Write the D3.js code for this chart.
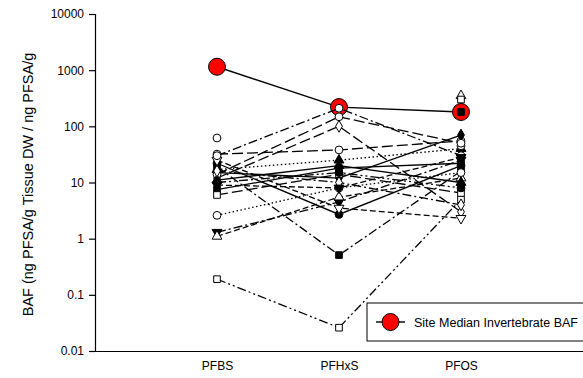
<!DOCTYPE html>
<html>
<head>
<meta charset="utf-8">
<script src="https://cdn.jsdelivr.net/npm/d3@7"></script>
<style>
  html, body { margin: 0; padding: 0; background: #fff; }
  svg { display: block; font-family: "Liberation Sans", Arial, sans-serif; }
</style>
</head>
<body>
<svg id="chart" width="583" height="378"></svg>
<script>
// Compounds on the category axis
const categories = ["PFBS", "PFHxS", "PFOS"];
const yTickValues = [0.01, 0.1, 1, 10, 100, 1000, 10000];
const yTickLabels = ["0.01", "0.1", "1", "10", "100", "1000", "10000"];

// Site median invertebrate BAF
const medianBAF = [1150, 220, 180];

// Individual invertebrate BAFs (PFBS, PFHxS, PFOS); null = not determined
const inv01 = [22, 2.7, 20];
const inv02 = [32, 38, 55];
const inv03 = [1.3, 4.5, 25];
const inv04 = [1.1, 5.5, 12];
const inv05 = [19, 0.51, 16];
const inv06 = [0.19, 0.026, 5];
const inv07 = [15, 12, 70];
const inv08 = [12, 100, 3];
const inv09 = [17, 25, 40];
const inv10 = [25, 3.5, 2.3];
const inv11 = [2.6, 8, 15];
const inv12 = [62, null, 45];
const inv13 = [7.5, 18, 22];
const inv14 = [6, 14, 6.5];
const inv15 = [10, 15, 8];
const inv16 = [30, 210, 30];
const inv17 = [14, 148, 50];
const inv18 = [11, 20, 10];
const inv19 = [16, 10, 4];
const inv20 = [9, 8, 28];
const inv21 = [null, null, 350];
const inv22 = [null, null, 300];
const inv23 = [null, null, 180];

const seriesValues = [inv01, inv02, inv03, inv04, inv05, inv06, inv07, inv08, inv09, inv10,
  inv11, inv12, inv13, inv14, inv15, inv16, inv17, inv18, inv19, inv20, inv21, inv22, inv23];

// Marker and line style per series
const seriesMarkers = ["circleF", "circleO", "triDownF", "triUpO", "squareF", "squareO", "diamondF",
  "diamondO", "triUpF", "triDownO", "circleO", "circleO", "squareF", "squareO", "circleF",
  "circleO", "circleO", "triUpF", "diamondO", "triDownF", "triUpO", "squareO", "squareF"];
const seriesDashes = ["solid", "longDash", "dashDot", "dash", "dashDot", "dashDotDot", "solid",
  "longDash", "dotted", "dash", "dotted", "none", "solid", "longDash", "dashDotDot",
  "dashDot", "longDash", "solid", "dashDot", "dash", "none", "none", "none"];

const dashPatterns = {
  solid: null,
  longDash: "11,4",
  dash: "6,3",
  dashDot: "9,3,2,3",
  dashDotDot: "9,3,2,3,2,3",
  dotted: "1.5,2.5",
  none: null
};

const svg = d3.select("#chart");
const margin = { left: 95, right: 0, top: 14, bottom: 27 };
const W = 583, H = 378;
const FONT = "Liberation Sans, Arial, sans-serif";

const x = d3.scalePoint().domain(categories).range([margin.left, W]).padding(1);
const y = d3.scaleLog().domain([0.01, 10000]).range([H - margin.bottom, margin.top]);

// Axes
const yAxis = d3.axisLeft(y).tickValues(yTickValues)
  .tickFormat((d, i) => yTickLabels[i]).tickSizeOuter(0).tickSize(6).tickPadding(5);
const gy = svg.append("g").attr("transform", `translate(${margin.left},0)`).call(yAxis);
gy.select(".domain").attr("stroke", "#000").attr("stroke-width", 1.2);
gy.selectAll(".tick line").attr("stroke", "#000").attr("stroke-width", 1.2);
gy.selectAll(".tick text").attr("font-size", 12).attr("fill", "#000").attr("font-family", FONT);

const xAxis = d3.axisBottom(x).tickSize(0).tickSizeOuter(0).tickPadding(10);
const gx = svg.append("g").attr("transform", `translate(0,${H - margin.bottom})`).call(xAxis);
gx.select(".domain").attr("stroke", "#000").attr("stroke-width", 1.2);
gx.selectAll(".tick text").attr("font-size", 12).attr("fill", "#000").attr("font-family", FONT);

svg.append("text")
  .attr("transform", `translate(33,${(margin.top + H - margin.bottom) / 2 + 2}) rotate(-90)`)
  .attr("text-anchor", "middle")
  .attr("font-size", 14.5)
  .attr("fill", "#000")
  .text("BAF (ng PFSA/g Tissue DW / ng PFSA/g");

const line = d3.line()
  .defined(d => d.v != null)
  .x(d => x(d.c))
  .y(d => y(d.v));

const toPoints = vals => vals.map((v, i) => ({ c: categories[i], v }));

// Median series goes underneath the individual markers
const plot = svg.append("g");
plot.append("path")
  .datum(toPoints(medianBAF))
  .attr("d", line)
  .attr("fill", "none")
  .attr("stroke", "#000")
  .attr("stroke-width", 1.4);
plot.selectAll("circle.median")
  .data(toPoints(medianBAF))
  .join("circle")
  .attr("class", "median")
  .attr("cx", d => x(d.c))
  .attr("cy", d => y(d.v))
  .attr("r", 8.5)
  .attr("fill", "#ff0000")
  .attr("stroke", "#000")
  .attr("stroke-width", 1);

const symbolOf = {
  circle: d3.symbolCircle,
  triUp: d3.symbolTriangle,
  triDown: d3.symbolTriangle,
  square: d3.symbolSquare,
  diamond: d3.symbolDiamond
};
const sizeOf = { circle: 48, triUp: 42, triDown: 42, square: 44, diamond: 40 };

seriesValues.forEach((vals, i) => {
  const dash = seriesDashes[i];
  if (dash !== "none") {
    plot.append("path")
      .datum(toPoints(vals))
      .attr("d", line)
      .attr("fill", "none")
      .attr("stroke", "#000")
      .attr("stroke-width", 1.3)
      .attr("stroke-dasharray", dashPatterns[dash]);
  }
});

seriesValues.forEach((vals, i) => {
  const m = seriesMarkers[i];
  const shape = m.slice(0, -1);
  const filled = m.endsWith("F");
  const sym = d3.symbol().type(symbolOf[shape]).size(sizeOf[shape]);
  plot.append("g").selectAll("path")
    .data(toPoints(vals).filter(d => d.v != null))
    .join("path")
    .attr("d", sym)
    .attr("transform", d => `translate(${x(d.c)},${y(d.v)})` + (shape === "triDown" ? " rotate(180)" : ""))
    .attr("fill", filled ? "#000" : "#fff")
    .attr("stroke", "#000")
    .attr("stroke-width", 1);
});

// Legend
const lg = svg.append("g").attr("transform", "translate(367,303)");
lg.append("rect")
  .attr("width", 260).attr("height", 38)
  .attr("fill", "#fff").attr("stroke", "#000").attr("stroke-width", 1);
lg.append("line")
  .attr("x1", 9).attr("x2", 38).attr("y1", 19).attr("y2", 19)
  .attr("stroke", "#000").attr("stroke-width", 1.4);
lg.append("circle")
  .attr("cx", 23.5).attr("cy", 19).attr("r", 8.5)
  .attr("fill", "#ff0000").attr("stroke", "#000").attr("stroke-width", 1);
lg.append("text")
  .attr("x", 47).attr("y", 23.5)
  .attr("font-size", 12.5).attr("fill", "#000")
  .text("Site Median Invertebrate BAF");
</script>
</body>
</html>
